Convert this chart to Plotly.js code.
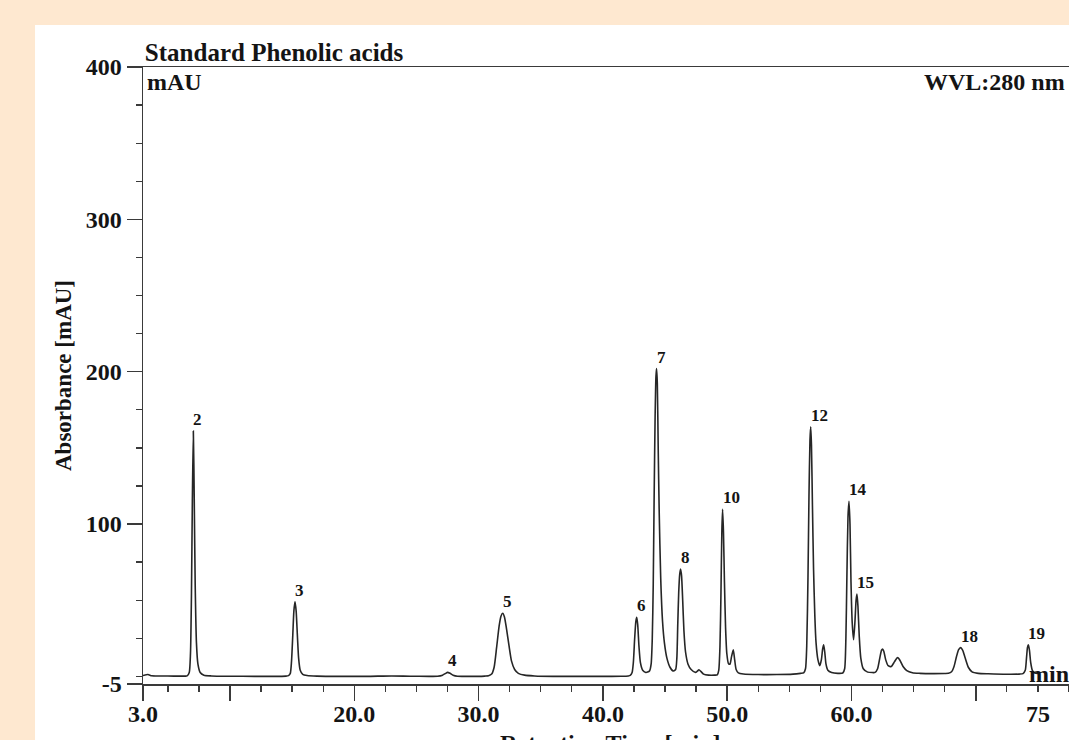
<!DOCTYPE html>
<html>
<head>
<meta charset="utf-8">
<script src="https://cdn.plot.ly/plotly-3.0.1.min.js"></script>
<style>
  html, body { margin: 0; padding: 0; background: #fee8d0; overflow: hidden; }
  #chart { width: 1069px; height: 740px; }
</style>
</head>
<body>
<div id="chart"></div>
<script>
// Chromatogram trace, 280 nm: retention time (min) and absorbance (mAU)
const rtMin = [
  3.0, 3.4, 3.7, 4.5, 5.5, 6.3,
  6.55, 6.72, 6.82, 6.90, 6.97, 7.05, 7.12, 7.20, 7.30, 7.42, 7.6, 7.9,
  8.5, 10, 12, 13.5, 14.5,
  14.70, 14.85, 14.95, 15.05, 15.14, 15.23, 15.32, 15.42, 15.52, 15.65, 15.85, 16.2,
  17, 19, 21, 23, 24.5, 26,
  26.7, 27.1, 27.35, 27.5, 27.7, 27.95, 28.3,
  29, 30, 30.5,
  30.8, 31.05, 31.25, 31.45, 31.65, 31.8, 31.94, 32.08, 32.25, 32.45, 32.65, 32.9, 33.2, 33.7, 34.5,
  36, 38, 40, 41.5, 42.05,
  42.2, 42.35, 42.45, 42.55, 42.65, 42.72, 42.80, 42.90, 43.02, 43.2, 43.45, 43.6,
  43.75, 43.88, 43.97, 44.05, 44.12, 44.2, 44.27, 44.32, 44.38, 44.45, 44.53, 44.65, 44.8, 44.95, 45.15, 45.4, 45.65,
  45.85, 45.95, 46.02, 46.1, 46.18, 46.25, 46.33, 46.42, 46.52, 46.65, 46.85, 47.1, 47.45,
  47.6, 47.73, 47.88, 48.1, 48.5, 49.0,
  49.2, 49.32, 49.42, 49.5, 49.57, 49.63, 49.7, 49.78, 49.87, 49.97, 50.1, 50.22, 50.35, 50.49, 50.6, 50.72, 50.9, 51.3,
  52.5, 54, 55.3, 55.9,
  56.15, 56.3, 56.4, 56.5, 56.58, 56.66, 56.72, 56.78, 56.86, 56.95, 57.05, 57.15, 57.3, 57.45, 57.58, 57.68, 57.76, 57.85, 57.95, 58.1, 58.4, 58.9,
  59.3, 59.45, 59.55, 59.63, 59.72, 59.8, 59.88, 59.96, 60.06, 60.17, 60.28, 60.37, 60.44, 60.52, 60.62, 60.75, 60.95, 61.3, 61.7,
  61.9, 62.1, 62.3, 62.42, 62.5, 62.6, 62.75, 62.95, 63.2, 63.45, 63.65, 63.75, 63.9, 64.15, 64.45, 64.9, 65.5,
  66.5, 67.5,
  67.8, 68.05, 68.25, 68.45, 68.62, 68.78, 68.95, 69.15, 69.4, 69.7, 70.2,
  71, 72.5, 73.5,
  73.8, 73.98, 74.08, 74.16, 74.23, 74.32, 74.42, 74.55, 74.75, 75.0
];
const absMAU = [
  0.6, 1.2, 0.4, 0.3, 0.2, 0.2,
  0.3, 2.5, 15, 55, 115, 161, 118, 60, 22, 8, 2.5, 0.8,
  0.3, 0.1, 0, 0, 0.2,
  0.5, 2, 10, 27, 43, 49, 43, 27, 12, 4, 1.3, 0.6,
  0.2, 0, 0, 0.3, 0.1, 0,
  0.1, 0.8, 2.0, 2.6, 2.0, 0.8, 0.1,
  0, 0, 0.2,
  0.4, 1.5, 6, 19, 33, 39.5, 41.4, 39, 31, 20, 10, 4.5, 2, 0.8, 0.3,
  0, 0, 0, 0.1, 0.3,
  0.6, 2.5, 9, 24, 36, 38.8, 34, 20, 9, 4, 2.6, 2.8,
  3.5, 8, 24, 60, 115, 170, 197, 202, 192, 150, 108, 65, 36, 22, 12, 6, 3.6,
  4.5, 12, 33, 55, 67, 70.5, 66, 50, 30, 16, 8, 4.5, 2.6,
  3.4, 4.4, 3.3, 1.5, 0.8, 0.8,
  1, 4, 20, 55, 95, 109.6, 95, 62, 32, 15, 8.5, 8, 13, 17.4, 11, 4.5, 2.3, 1.6,
  1.2, 1.2, 1.5, 2,
  2.3, 5, 20, 65, 118, 155, 163.8, 152, 112, 70, 40, 22, 11, 7, 11, 18, 20.7, 16, 8, 4, 2.5, 2,
  2.2, 5, 25, 65, 105, 115, 100, 62, 35, 24, 36, 50, 54, 46, 27, 12, 5, 2.8, 2.5,
  2.6, 5, 13, 17.2, 18, 16.5, 11, 7, 6.5, 9.5, 12, 12.3, 10.5, 6.5, 3.8, 2.4, 2,
  1.8, 1.9,
  2, 3, 6.5, 13, 17.5, 18.9, 17, 12, 6, 3, 2,
  1.7, 1.4, 1.5,
  1.8, 4, 12, 19, 20.7, 17, 9, 4, 2.2, 2
];

// Numbered peaks and their apex retention times
const peakNumbers = ['2', '3', '4', '5', '6', '7', '8', '10', '12', '14', '15', '18', '19'];
const peakTimes = [7.05, 15.23, 27.5, 31.94, 42.72, 44.32, 46.25, 49.63, 56.72, 59.8, 60.44, 68.78, 74.23];

// Axis ticks
const yTickVals = [-5, 100, 200, 300, 400];
const yTickText = ['-5', '100', '200', '300', '400'];
const yMinorVals = [0, 25, 50, 75, 125, 150, 175, 225, 250, 275, 325, 350, 375];
const xLongTicks = [3, 10, 20, 30, 40, 50, 60, 70];
const xLabelVals = [3, 20, 30, 40, 50, 60, 75];
const xLabelText = ['3.0', '20.0', '30.0', '40.0', '50.0', '60.0', '75'];

const SERIF = '"Liberation Serif", "Times New Roman", Times, serif';
const INK = '#141414';
const AXIS = '#3a3a3a';
const X_RANGE = [3, 77.5];

// Peak number labels sit at the apex of the trace
const annotations = peakNumbers.map((label, i) => {
  const idx = rtMin.indexOf(peakTimes[i]);
  return {
    x: rtMin[idx], y: absMAU[idx], xref: 'x', yref: 'y',
    text: '<b>' + label + '</b>', showarrow: false,
    xanchor: 'left', yanchor: 'bottom', xshift: -2, yshift: 0,
    font: { family: SERIF, size: 17, color: INK }
  };
});

annotations.push(
  { text: '<b>mAU</b>', xref: 'paper', yref: 'paper', x: 0.002, y: 1, xanchor: 'left', yanchor: 'top',
    showarrow: false, font: { family: SERIF, size: 24, color: INK } },
  { text: '<b>WVL:280 nm</b>', xref: 'paper', yref: 'paper', x: 0.841, y: 1, xanchor: 'left', yanchor: 'top',
    showarrow: false, font: { family: SERIF, size: 24, color: INK } },
  { text: '<b>min</b>', xref: 'paper', yref: 'paper', x: 0.955, y: 0.016, xanchor: 'left', yanchor: 'middle',
    showarrow: false, font: { family: SERIF, size: 24, color: INK } },
  // x-axis title, sitting at the lower edge of the figure
  { text: '<b>Retention Time [min]</b>', xref: 'paper', yref: 'paper', x: 0.504, y: -0.0713, xanchor: 'center', yanchor: 'top',
    showarrow: false, font: { family: SERIF, size: 24, color: INK } }
);

const trace = {
  x: rtMin, y: absMAU, type: 'scatter', mode: 'lines',
  line: { color: '#262626', width: 1.6, shape: 'spline', smoothing: 0.6 },
  hoverinfo: 'x+y'
};

const tickFont = { family: SERIF, size: 24, color: INK, weight: 'bold' };

const layout = {
  width: 1069, height: 740,
  margin: { l: 143, r: 0, t: 67, b: 56 },
  paper_bgcolor: '#fee8d0',
  plot_bgcolor: '#ffffff',
  showlegend: false,
  title: {
    text: '<b>Standard Phenolic acids</b>',
    font: { family: SERIF, size: 25, color: INK },
    xref: 'paper', x: 0.002, xanchor: 'left',
    yref: 'container', y: 0.93, yanchor: 'middle'
  },
  // white panel behind the chart
  shapes: [{
    type: 'rect', xref: 'paper', yref: 'paper', layer: 'below',
    x0: -0.1166, x1: 1.01, y0: -0.1, y1: 1.068,
    fillcolor: '#ffffff', line: { width: 0 }
  }],
  xaxis: {
    range: X_RANGE, showgrid: false, zeroline: false,
    showline: true, linecolor: AXIS, linewidth: 1.5, mirror: true,
    tickmode: 'array', tickvals: xLongTicks, showticklabels: false,
    ticks: 'outside', ticklen: 15, tickwidth: 1.5, tickcolor: AXIS,
    minor: { tickmode: 'linear', tick0: 0, dtick: 2.5, ticks: 'outside', ticklen: 6, tickwidth: 1.3, tickcolor: AXIS, showgrid: false }
  },
  xaxis2: {
    overlaying: 'x', anchor: 'y', side: 'bottom',
    range: X_RANGE, showgrid: false, zeroline: false, showline: false,
    tickmode: 'array', tickvals: xLabelVals, ticktext: xLabelText,
    ticks: 'outside', ticklen: 8, tickcolor: 'rgba(0,0,0,0)',
    tickfont: tickFont
  },
  yaxis: {
    range: [-5, 400], showgrid: false, zeroline: false,
    showline: true, linecolor: AXIS, linewidth: 1.5,
    tickmode: 'array', tickvals: yTickVals, ticktext: yTickText,
    ticks: 'outside', ticklen: 15, tickwidth: 1.5, tickcolor: AXIS,
    tickfont: tickFont,
    minor: { tickmode: 'array', tickvals: yMinorVals, ticks: 'outside', ticklen: 6, tickwidth: 1.3, tickcolor: AXIS, showgrid: false },
    title: { text: '<b>Absorbance [mAU]</b>', font: { family: SERIF, size: 23, color: INK }, standoff: 7 }
  },
  annotations: annotations
};

Plotly.newPlot('chart', [trace, { x: [], y: [], xaxis: 'x2', yaxis: 'y', type: 'scatter', mode: 'lines', hoverinfo: 'skip' }], layout,
  { displayModeBar: false, staticPlot: true });
</script>
</body>
</html>
